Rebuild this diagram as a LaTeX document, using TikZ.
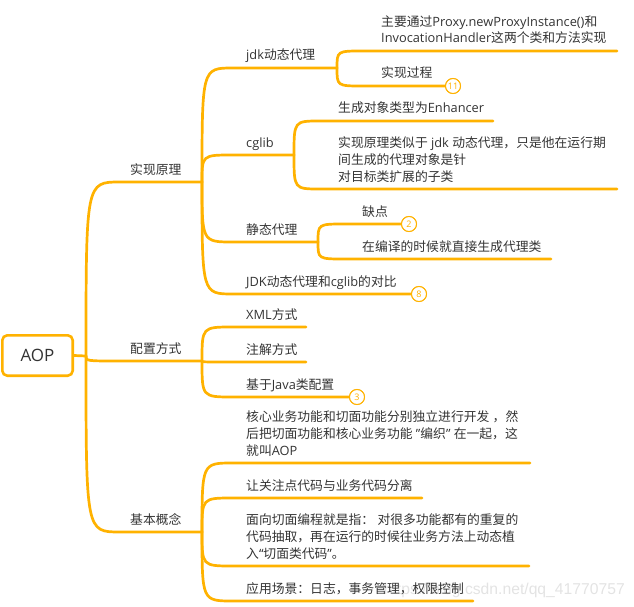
\documentclass[tikz,border=0pt]{standalone}
\usepackage{fontspec}
\setmainfont{Open Sans}
\newfontfamily\zhfont{Noto Sans CJK SC}
\newfontfamily\wmfont{Liberation Sans}
\newcommand\zh[1]{{\zhfont #1}}
\definecolor{lineor}{RGB}{255,178,0}
\definecolor{txt}{RGB}{51,51,51}
\begin{document}
\begin{tikzpicture}[x=1pt,y=-1pt,
  br/.style={draw=lineor, line width=2.7pt, line cap=round},
  lbl/.style={anchor=base west, inner sep=0pt, text=txt, font=\fontsize{12.8}{16.7}\selectfont, align=left},
  badge/.style={circle, draw=lineor, line width=1pt, fill=white, minimum size=15pt, inner sep=0pt, text=lineor, font=\fontsize{9}{9}\selectfont},
  aopbox/.style={draw=lineor, line width=2.6pt, rounded corners=5pt, fill=white, minimum width=70.4pt, minimum height=40.4pt, inner sep=0pt, text=txt, font=\fontsize{17}{17}\selectfont},
  wm/.style={anchor=base east, inner sep=0pt, text=black!11, font=\wmfont\fontsize{15.7}{16}\selectfont}]
\useasboundingbox (0,0) rectangle (634,607);
% watermark
\node[wm] (wm) at (625,594) {https://blog.csdn.net/qq\_41770757};
% root
\node[aopbox] (aop) at (37.5,355.5) {AOP};
\coordinate (T) at (86,356);
% level 1
\coordinate (s1) at (120,182); \coordinate (e1) at (202,182);
\coordinate (s2) at (120,361); \coordinate (e2) at (202,361);
\coordinate (s3) at (120,532); \coordinate (e3) at (202,532);
% level 2 under e1
\coordinate (jdkS) at (233,68);  \coordinate (jdkE) at (337,68);
\coordinate (cgS) at (233,155);  \coordinate (cgE) at (294,155);
\coordinate (stS) at (233,242);  \coordinate (stE) at (318,242);
\coordinate (cmpS) at (233,294);
% level 2 under e2
\coordinate (xmlS) at (233,327); \coordinate (xmlE) at (306,327);
\coordinate (annS) at (233,362); \coordinate (annE) at (306,362);
\coordinate (jcS) at (233,397);
% level 2 under e3
\coordinate (k1S) at (233,463); \coordinate (k1E) at (530,463);
\coordinate (k2S) at (233,498); \coordinate (k2E) at (422,498);
\coordinate (k3S) at (233,566); \coordinate (k3E) at (529,566);
\coordinate (k4S) at (233,601); \coordinate (k4E) at (473,601);
% level 3
\coordinate (j1S) at (363,51);  \coordinate (j1E) at (617,51);
\coordinate (j2S) at (363,86);
\coordinate (c1S) at (320,121); \coordinate (c1E) at (493,121);
\coordinate (c2S) at (320,189); \coordinate (c2E) at (617,189);
\coordinate (t1S) at (345,224);
\coordinate (t2S) at (345,259); \coordinate (t2E) at (551,259);
% badges (positions)
\node[badge] (b11) at (453,86) {11};
\node[badge] (b2) at (409,224) {2};
\node[badge] (b8) at (419,294) {8};
\node[badge] (b3) at (357,397) {3};
% connectors
\draw[br] (aop.east) -- (T);
\draw[br] (T) .. controls (T |- s1) .. (s1) -- (e1);
\draw[br] (T) .. controls (T |- s2) .. (s2) -- (e2);
\draw[br] (T) .. controls (T |- s3) .. (s3) -- (e3);
\draw[br] (e1) .. controls (e1 |- jdkS) .. (jdkS) -- (jdkE);
\draw[br] (e1) .. controls (e1 |- cgS) .. (cgS) -- (cgE);
\draw[br] (e1) .. controls (e1 |- stS) .. (stS) -- (stE);
\draw[br] (e1) .. controls (e1 |- cmpS) .. (cmpS) -- (b8.west);
\draw[br] (e2) .. controls (e2 |- xmlS) .. (xmlS) -- (xmlE);
\draw[br] (e2) .. controls (e2 |- annS) .. (annS) -- (annE);
\draw[br] (e2) .. controls (e2 |- jcS) .. (jcS) -- (b3.west);
\draw[br] (e3) .. controls (e3 |- k1S) .. (k1S) -- (k1E);
\draw[br] (e3) .. controls (e3 |- k2S) .. (k2S) -- (k2E);
\draw[br] (e3) .. controls (e3 |- k3S) .. (k3S) -- (k3E);
\draw[br] (e3) .. controls (e3 |- k4S) .. (k4S) -- (k4E);
\draw[br] (jdkE) .. controls (jdkE |- j1S) .. (j1S) -- (j1E);
\draw[br] (jdkE) .. controls (jdkE |- j2S) .. (j2S) -- (b11.west);
\draw[br] (cgE) .. controls (cgE |- c1S) .. (c1S) -- (c1E);
\draw[br] (cgE) .. controls (cgE |- c2S) .. (c2S) -- (c2E);
\draw[br] (stE) .. controls (stE |- t1S) .. (t1S) -- (b2.west);
\draw[br] (stE) .. controls (stE |- t2S) .. (t2S) -- (t2E);
% badges on top of connectors
\node[badge] at (b11) {11};
\node[badge] at (b2) {2};
\node[badge] at (b8) {8};
\node[badge] at (b3) {3};
% labels level 1
\node[lbl] (l1) at (130,174) {\zh{实现原理}};
\node[lbl] (l2) at (130,353) {\zh{配置方式}};
\node[lbl] (l3) at (130,524) {\zh{基本概念}};
% labels level 2
\node[lbl] (ljdk) at (246,60) {jdk\zh{动态代理}};
\node[lbl] (lcg) at (246,147) {cglib};
\node[lbl] (lst) at (246,234) {\zh{静态代理}};
\node[lbl] (lcmp) at (246,286) {JDK\zh{动态代理和}cglib\zh{的对比}};
\node[lbl] (lxml) at (246,319) {XML\zh{方式}};
\node[lbl] (lann) at (246,354) {\zh{注解方式}};
\node[lbl] (ljc) at (246,389) {\zh{基于}Java\zh{类配置}};
\node[lbl] (lk1) at (246,455) {\zh{核心业务功能和切面功能分别独立进行开发} \zh{，然}\\\zh{后把切面功能和核心业务功能} "\zh{编织}" \zh{在一起，这}\\\zh{就叫}AOP};
\node[lbl] (lk2) at (246,490) {\zh{让关注点代码与业务代码分离}};
\node[lbl] (lk3) at (246,558) {\zh{面向切面编程就是指：} \zh{对很多功能都有的重复的}\\\zh{代码抽取，再在运行的时候往业务方法上动态植}\\\zh{入}“\zh{切面类代码}”\zh{。}};
\node[lbl] (lk4) at (246,593) {\zh{应用场景：日志，事务管理，权限控制}};
% labels level 3
\node[lbl] (lj1) at (381,43) {\zh{主要通过}Proxy.newProxyInstance()\zh{和}\\InvocationHandler\zh{这两个类和方法实现}};
\node[lbl] (lj2) at (381,78) {\zh{实现过程}};
\node[lbl] (lc1) at (338,113) {\zh{生成对象类型为}Enhancer};
\node[lbl] (lc2) at (338,181) {\zh{实现原理类似于} jdk \zh{动态代理，只是他在运行期}\\\zh{间生成的代理对象是针}\\\zh{对目标类扩展的子类}};
\node[lbl] (lt1) at (362,216) {\zh{缺点}};
\node[lbl] (lt2) at (362,251) {\zh{在编译的时候就直接生成代理类}};
\end{tikzpicture}
\end{document}
